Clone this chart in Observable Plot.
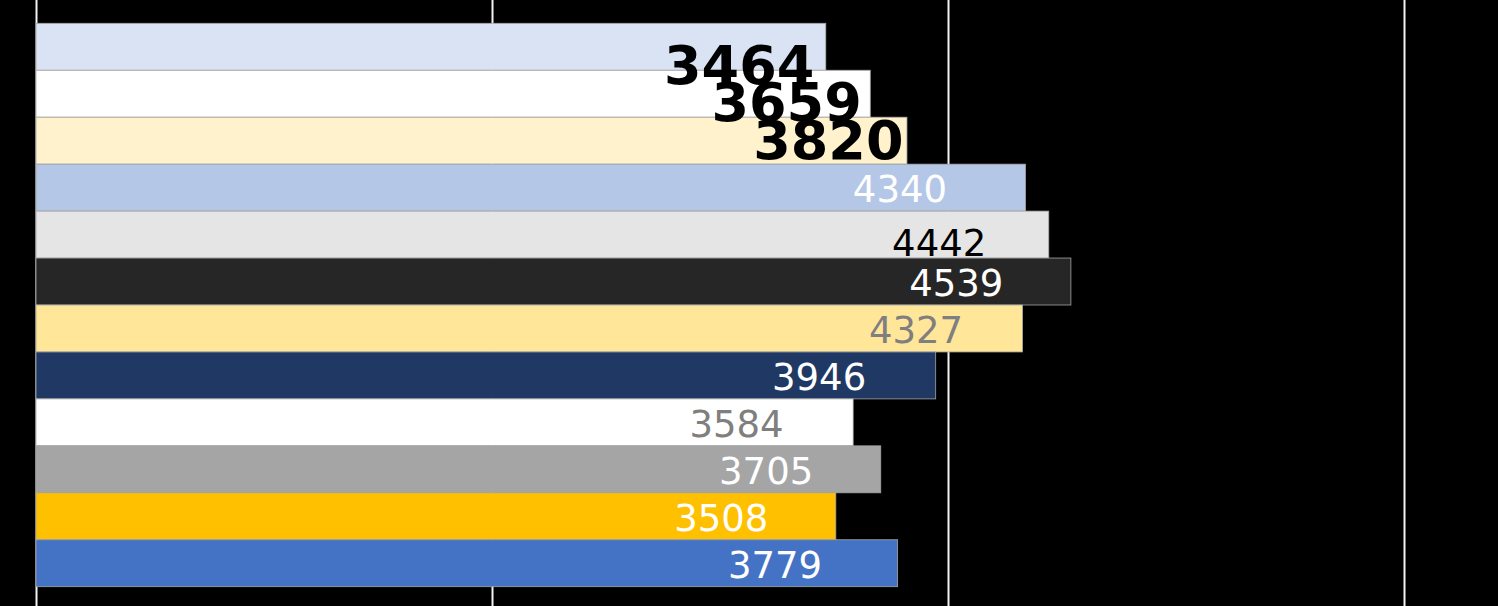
<!DOCTYPE html>
<html>
<head>
<meta charset="utf-8">
<script src="https://cdn.jsdelivr.net/npm/d3@7"></script>
<script src="https://cdn.jsdelivr.net/npm/@observablehq/plot@0.6"></script>
<style>
  html, body { margin: 0; padding: 0; background: #000; }
  #chart svg { display: block; }
</style>
</head>
<body>
<div id="chart"></div>
<script>
// ---- data ----
const categories = ["A", "B", "C", "D", "E", "F", "G", "H", "I", "J", "K", "L"];
const values = [3464, 3659, 3820, 4340, 4442, 4539, 4327, 3946, 3584, 3705, 3508, 3779];
const barColors = ["#dae3f3", "#ffffff", "#fff2cc", "#b4c7e7", "#e5e5e5", "#262626",
                   "#ffe699", "#203864", "#ffffff", "#a5a5a5", "#ffc000", "#4472c4"];
const labelColors = ["#000000", "#000000", "#000000", "#ffffff", "#000000", "#ffffff",
                     "#7f7f7f", "#ffffff", "#7f7f7f", "#ffffff", "#ffffff", "#ffffff"];
const xTicks = [0, 2000, 4000, 6000];

const rows = categories.map((c, i) => ({cat: c, value: values[i], i}));
const boldRows = rows.slice(0, 3);
const plainRows = rows.slice(3);

// label layout (nudges to match the reference)
const boldDy = [19, 9, 1];
const boldDx = [-12, -9, -4];
const plainDx = {3: -79, 4: -63, 5: -68, 6: -60, 7: -70, 8: -70, 9: -68, 10: -68, 11: -76};
const plainDy = {4: 9};

const W = 1498, H = 606;
const pxPerUnit = 456 / 2000;

const plot = Plot.plot({
  width: W,
  height: H,
  marginLeft: 36,
  marginRight: 0,
  marginTop: 0,
  marginBottom: 0,
  style: {background: "#000", fontFamily: "DejaVu Sans, sans-serif"},
  x: {domain: [0, (W - 36) / pxPerUnit], axis: null},
  y: {domain: categories, range: [23.3, 586.7], padding: 0, round: false, axis: null},
  color: {domain: categories, range: barColors},
  marks: [
    Plot.ruleX(xTicks, {stroke: "#f2f2f2", strokeWidth: 2}),
    Plot.barX(rows, {x: "value", y: "cat", fill: "cat", stroke: "#a6a6a6", strokeWidth: 0.8}),
    ...plainRows.map(d => Plot.text([d], {
      x: "value", y: "cat", text: r => String(r.value),
      textAnchor: "end", dx: plainDx[d.i], dy: plainDy[d.i] || 2,
      fill: labelColors[d.i], fontSize: 37
    })),
    ...boldRows.map(d => Plot.text([d], {
      x: "value", y: "cat", text: r => String(r.value),
      textAnchor: "end", dx: boldDx[d.i], dy: boldDy[d.i],
      fill: labelColors[d.i], fontSize: 54, fontWeight: "bold"
    }))
  ]
});
document.getElementById("chart").appendChild(plot);
</script>
</body>
</html>
